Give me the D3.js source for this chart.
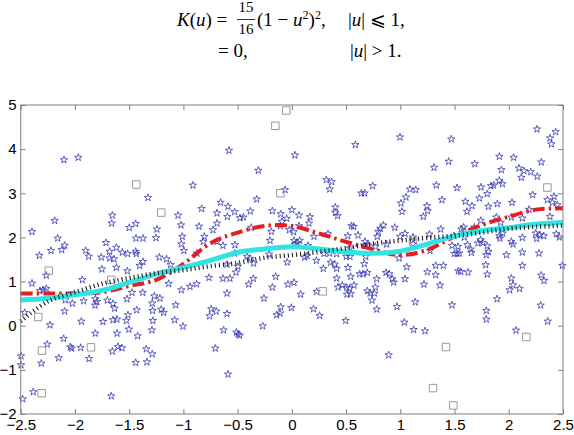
<!DOCTYPE html>
<html><head><meta charset="utf-8">
<script src="https://cdn.jsdelivr.net/npm/d3@7"></script>
<style>html,body{margin:0;padding:0;background:#fff;}svg{display:block;}</style>
</head><body>
<svg id="chart" width="574" height="435"></svg>
<script>
// ---- data ----
const xTicks = [-2.5,-2,-1.5,-1,-0.5,0,0.5,1,1.5,2,2.5];
const yTicks = [-2,-1,0,1,2,3,4,5];

const starX = [
-2.101,-1.969,-1.655,-1.661,-2.187,-2.396,-2.159,-2.095,-2.122,-2.221,-2.328,-1.714,-1.618,-1.901,-1.873,-1.757,-1.680,-1.680,-1.640,-1.563,-1.514,-1.499,-1.618,-1.751,-1.517,-2.264,-2.396,-1.932,-2.322,-2.295,-2.264,-2.089,-2.024,-1.920,-1.812,-1.797,-1.815,-1.701,-1.649,-1.634,-1.520,-2.095,-2.464,-1.941,-2.230,-1.741,-1.649,-1.612,-1.526,-1.502,-1.812,-1.612,-2.104,-2.255,-2.043,-2.030,-1.947,-1.603,-1.566,-1.655,-1.870,-2.150,-2.310,-2.497,-2.497,-2.384,-2.482,-1.665,
-0.580,-0.912,-1.327,-0.832,-0.657,-0.589,-1.050,-0.690,-0.595,-0.528,-1.440,-1.244,-1.022,-0.856,-0.690,-1.437,-1.373,-1.253,-1.010,-1.019,-0.807,-0.816,-0.727,-0.690,-0.635,-0.525,-1.440,-1.434,-1.373,-1.403,-0.995,-1.222,-1.155,-1.118,-0.875,-0.527,-0.598,-0.497,-0.764,-0.635,-0.571,-0.515,-1.136,-1.474,-1.376,-1.019,-0.939,-0.878,-0.598,-1.268,-1.216,-1.287,-1.071,-1.431,-1.284,-1.204,-1.182,-0.743,-0.697,-0.758,-0.598,-1.511,-1.281,-1.081,-1.004,-1.290,-0.629,-0.512,-0.497,-1.422,-0.706,-1.342,-1.287,-1.440,-1.336,-0.589,
0.029,-0.309,-0.063,0.318,0.367,0.349,-0.324,-0.383,-0.180,0.000,-0.103,-0.048,0.066,0.401,0.401,0.422,-0.478,-0.447,-0.091,-0.106,0.167,0.158,0.066,-0.374,-0.189,-0.023,0.017,0.204,0.333,0.515,-0.201,0.020,0.050,0.072,0.032,0.149,-0.211,0.118,0.140,-0.414,-0.383,-0.352,-0.042,0.226,0.296,0.349,0.413,0.358,0.395,0.413,0.502,0.290,-0.149,-0.355,-0.398,-0.180,-0.036,0.020,0.081,0.413,0.425,0.465,0.505,0.508,0.229,-0.257,-0.103,-0.005,-0.140,-0.109,0.200,0.256,-0.269,0.496,-0.481,
0.997,0.585,1.470,1.446,1.311,0.745,0.641,0.671,1.089,1.142,1.052,1.332,1.523,1.006,1.016,1.384,1.246,1.252,1.212,0.549,0.570,0.844,0.816,0.797,0.948,0.610,0.788,0.999,1.043,1.117,1.268,1.372,0.674,0.671,0.702,0.536,0.770,0.874,1.117,1.274,1.495,1.477,1.498,1.523,0.681,0.668,0.536,0.518,0.542,0.625,0.656,0.696,0.782,0.868,0.899,0.926,0.939,0.988,1.059,1.043,1.249,1.326,1.397,1.326,1.218,1.366,1.535,0.573,0.533,0.542,0.696,0.721,0.761,0.739,0.782,0.770,0.969,1.138,1.477,1.037,1.123,1.228,0.893,
2.260,2.432,2.380,2.393,1.913,2.045,1.686,2.300,1.932,2.094,2.140,2.202,2.116,2.263,1.913,1.941,1.836,1.861,1.744,1.802,1.729,1.600,1.661,1.615,1.812,1.895,2.030,2.220,2.356,2.417,2.402,2.448,2.187,2.380,1.741,1.885,1.925,2.125,2.024,1.584,1.563,1.683,1.944,1.919,1.913,1.590,1.741,1.716,1.762,1.618,1.649,1.655,2.125,2.024,2.039,2.248,2.288,2.322,2.257,2.438,2.466,1.532,1.544,1.802,1.812,1.793,1.978,2.125,2.279,1.557,1.624,1.787,1.802,2.125,2.024,2.039,2.008,2.100,2.300,2.325,2.494,1.892,1.793,1.793,2.294,2.359,2.067
];
const starY = [
3.757,3.810,2.500,2.320,2.380,2.130,1.980,1.820,1.720,1.700,1.590,1.880,1.770,1.700,1.570,1.550,1.680,1.530,1.510,1.660,1.630,2.220,1.320,1.280,1.240,1.140,0.960,1.040,0.790,0.810,0.840,0.583,0.507,0.560,0.605,0.545,0.462,0.575,0.500,0.394,0.605,0.330,0.296,0.099,0.015,0.092,0.130,0.145,0.114,-0.082,-0.173,-0.173,-0.294,-0.422,-0.483,-0.513,-0.498,-0.475,-0.505,-0.580,-0.747,-0.730,-0.853,-0.687,-0.890,-1.500,-1.660,-1.594,
3.970,3.180,2.900,2.650,2.790,2.700,2.500,2.550,2.470,2.580,2.310,2.185,2.280,2.250,2.320,1.980,1.980,1.990,2.020,1.850,2.020,1.905,2.170,1.905,1.815,1.830,1.680,1.630,1.450,1.360,1.700,1.550,1.510,1.380,1.640,1.640,1.390,1.340,1.090,1.070,1.070,1.210,0.953,0.750,0.750,0.810,0.885,0.945,0.734,0.670,0.620,0.507,0.470,0.356,0.340,0.370,0.296,0.379,0.326,0.220,0.273,0.243,0.114,0.130,-0.014,-0.100,-0.100,-0.150,-0.196,-0.233,-0.513,-0.528,-0.642,-0.838,-0.823,-1.100,
3.863,3.516,3.077,3.304,3.259,3.092,2.866,2.594,2.601,2.624,2.533,2.427,2.503,2.684,2.563,2.488,2.442,2.457,2.359,2.261,2.465,2.321,2.261,2.223,2.132,2.170,2.125,2.019,2.079,2.034,1.928,1.928,1.883,1.928,1.845,1.815,1.618,1.550,1.580,1.566,1.520,1.414,1.437,1.475,1.633,1.640,1.626,1.430,1.392,1.294,1.566,1.294,1.112,1.067,0.938,0.870,0.938,0.976,0.711,1.074,0.870,0.915,0.862,0.711,0.772,0.620,0.424,0.409,0.243,0.281,0.379,0.228,-0.007,0.114,-0.218,
4.271,4.098,4.226,3.720,3.584,3.168,3.002,3.002,3.092,3.077,2.911,3.183,3.123,2.775,2.586,2.850,2.714,2.601,2.472,2.261,2.246,2.276,2.200,2.132,2.223,2.049,2.019,2.019,2.087,2.004,2.072,2.185,1.906,1.807,1.823,1.755,1.792,1.845,1.853,1.701,2.034,1.815,1.633,1.633,1.565,1.400,1.565,1.316,1.112,1.172,1.172,1.202,1.059,1.202,1.172,1.059,0.984,1.528,1.331,1.059,1.217,1.362,1.362,1.150,0.938,0.915,1.240,0.915,0.847,0.719,0.787,0.734,0.734,0.575,0.371,0.870,0.432,0.537,0.469,0.076,-0.090,-0.120,-0.664,
4.453,4.392,4.249,4.113,3.833,3.810,3.667,3.705,3.531,3.568,3.508,3.485,3.357,3.380,3.289,3.213,3.168,3.183,3.138,2.986,2.888,2.813,2.714,2.586,2.699,2.760,2.790,2.964,2.850,2.926,2.790,2.737,2.631,2.472,2.382,2.457,2.336,2.435,2.457,2.230,2.185,2.230,2.095,1.980,2.034,2.004,1.943,1.868,1.883,1.830,1.732,1.656,1.996,1.906,1.845,2.095,2.057,2.034,1.974,2.079,2.004,1.792,1.641,1.807,1.679,1.603,1.603,1.664,1.641,1.225,1.210,1.377,1.165,1.362,1.074,0.923,0.809,0.840,1.142,1.021,1.362,0.606,0.341,0.145,0.462,0.099,-0.105
];

const squareX = [-2.242,-2.338,-2.304,-1.852,-2.307,-1.665,-1.434,-1.204,-0.051,-0.152,-0.106,0.284,1.421,1.301,1.489,2.162,2.356,1.117];
const squareY = [1.248,0.197,-0.566,-0.490,-1.530,1.040,3.198,2.563,4.876,4.528,3.002,0.779,-0.483,-1.413,-1.806,-0.256,3.130,1.900];

const curveX = [-2.5,-2.25,-2,-1.75,-1.5,-1.25,-1,-0.75,-0.5,-0.25,0,0.25,0.5,0.75,1,1.25,1.5,1.75,2,2.25,2.5];
const cyanY  = [0.58,0.62,0.70,0.80,0.98,1.17,1.32,1.48,1.66,1.74,1.79,1.74,1.67,1.64,1.69,1.85,2.03,2.15,2.22,2.30,2.34];
const redY   = [0.73,0.73,0.73,0.76,0.90,1.04,1.40,1.87,2.11,2.26,2.26,2.09,1.90,1.73,1.60,1.72,2.02,2.28,2.47,2.63,2.66];
const blackY = [0.10,0.55,0.76,0.95,1.08,1.19,1.26,1.35,1.42,1.54,1.60,1.67,1.76,1.86,1.93,1.99,2.04,2.11,2.20,2.24,2.27];

// ---- chart ----
const svg = d3.select("#chart");
const x = d3.scaleLinear().domain([-2.5, 2.5]).range([20.7, 563]);
const y = d3.scaleLinear().domain([-2, 5]).range([414, 105]);

// equation
const eq = svg.append("g").attr("font-family", "'Liberation Serif','DejaVu Serif',serif").attr("fill", "#000");
const t1 = eq.append("text").attr("x", 177).attr("y", 26).attr("font-size", 19);
t1.append("tspan").attr("font-style", "italic").text("K");
t1.append("tspan").text("(");
t1.append("tspan").attr("font-style", "italic").text("u");
t1.append("tspan").text(") =");
eq.append("text").attr("x", 246).attr("y", 12).attr("font-size", 15).attr("text-anchor", "middle").text("15");
eq.append("text").attr("x", 246).attr("y", 33.5).attr("font-size", 15).attr("text-anchor", "middle").text("16");
eq.append("line").attr("x1", 237).attr("x2", 255).attr("y1", 19.5).attr("y2", 19.5).attr("stroke", "#000").attr("stroke-width", 0.8);
const t2 = eq.append("text").attr("x", 257).attr("y", 26).attr("font-size", 19);
t2.append("tspan").text("(1 \u2212 ");
t2.append("tspan").attr("font-style", "italic").text("u");
t2.append("tspan").attr("font-size", 12).attr("dy", -7).text("2");
t2.append("tspan").attr("dy", 7).text(")");
t2.append("tspan").attr("font-size", 12).attr("dy", -7).text("2");
t2.append("tspan").attr("dy", 7).text(",");
const t3 = eq.append("text").attr("x", 348).attr("y", 26).attr("font-size", 19);
t3.append("tspan").text("|");
t3.append("tspan").attr("font-style", "italic").text("u");
t3.append("tspan").text("| \u2A7D 1,");
eq.append("text").attr("x", 218).attr("y", 57).attr("font-size", 19).text("= 0,");
const t4 = eq.append("text").attr("x", 350).attr("y", 57).attr("font-size", 19);
t4.append("tspan").text("|");
t4.append("tspan").attr("font-style", "italic").text("u");
t4.append("tspan").text("| > 1.");

// markers
const stars = d3.range(starX.length).map(i => [starX[i], starY[i]]);
const squares = d3.range(squareX.length).map(i => [squareX[i], squareY[i]]);
const starPath = d3.symbol(d3.symbolStar).size(17)();
const sqPath = d3.symbol(d3.symbolSquare).size(56)();
svg.append("g").selectAll("path").data(stars).join("path")
  .attr("d", starPath)
  .attr("transform", d => `translate(${x(d[0])},${y(d[1])})`)
  .attr("fill", "none").attr("stroke", "#3a3ab4").attr("stroke-width", 0.8);
svg.append("g").selectAll("path").data(squares).join("path")
  .attr("d", sqPath)
  .attr("transform", d => `translate(${x(d[0])},${y(d[1])})`)
  .attr("fill", "none").attr("stroke", "#9a9a9a").attr("stroke-width", 1);

// curves
const line = d3.line().x(d => x(d[0])).y(d => y(d[1])).curve(d3.curveCatmullRom);
const mk = arr => curveX.map((v, i) => [v, arr[i]]);
svg.append("path").attr("d", line(mk(redY))).attr("fill", "none")
  .attr("stroke", "#e3201f").attr("stroke-width", 4).attr("stroke-dasharray", "12,4,2.5,4");
svg.append("path").attr("d", line(mk(cyanY))).attr("fill", "none")
  .attr("stroke", "#30e4e4").attr("stroke-width", 5);
svg.append("path").attr("d", line(mk(blackY))).attr("fill", "none")
  .attr("stroke", "#222").attr("stroke-width", 4.5).attr("stroke-dasharray", "1.1,3");

// axes
const fmt = d => String(d).replace("-", "\u2212");
const axFont = "'Liberation Sans',Arial,sans-serif";
function styleAxis(g) {
  g.select(".domain").remove();
  g.selectAll(".tick line").attr("stroke", "#808080");
  g.selectAll(".tick text").attr("font-family", axFont).attr("font-size", 15).attr("fill", "#000");
}
svg.append("g").attr("transform", "translate(0,414)")
  .call(d3.axisBottom(x).tickValues(xTicks).tickFormat(fmt).tickSize(-5).tickPadding(5)).call(styleAxis);
svg.append("g").attr("transform", "translate(0,105)")
  .call(d3.axisTop(x).tickValues(xTicks).tickFormat("").tickSize(-5)).call(styleAxis);
svg.append("g").attr("transform", "translate(20.7,0)")
  .call(d3.axisLeft(y).tickValues(yTicks).tickFormat(fmt).tickSize(-5).tickPadding(4)).call(styleAxis);
svg.append("g").attr("transform", "translate(563,0)")
  .call(d3.axisRight(y).tickValues(yTicks).tickFormat("").tickSize(-5)).call(styleAxis);
svg.append("rect").attr("x", 20.7).attr("y", 105).attr("width", 563 - 20.7).attr("height", 309)
  .attr("fill", "none").attr("stroke", "#808080").attr("stroke-width", 1);
</script>
</body></html>
